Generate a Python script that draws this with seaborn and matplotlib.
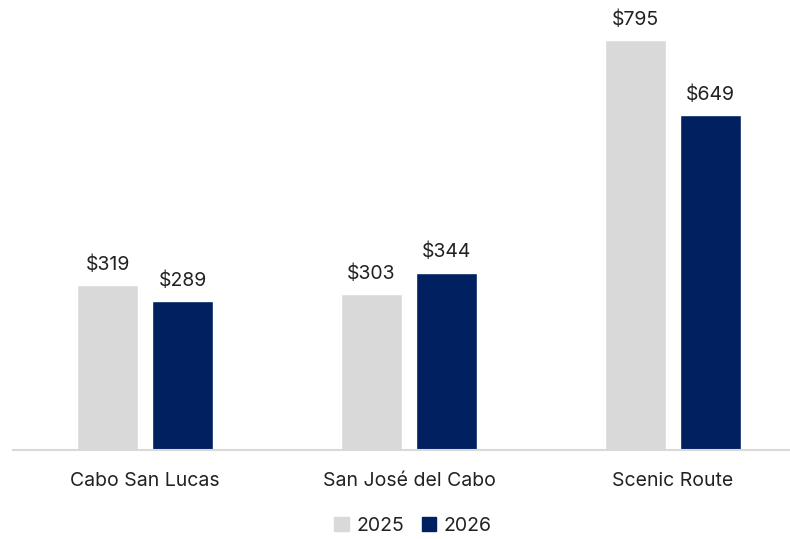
import matplotlib
matplotlib.use("Agg")
import matplotlib.pyplot as plt
import seaborn as sns
import pandas as pd

routes = ["Cabo San Lucas", "San José del Cabo", "Scenic Route"]
years = ["2025", "2026"]
values_2025 = [319, 303, 795]
values_2026 = [289, 344, 649]

df = pd.DataFrame({
    "route": routes * 2,
    "year": [years[0]] * 3 + [years[1]] * 3,
    "price": values_2025 + values_2026,
})

sns.set_theme(style="white")
plt.rcParams["font.family"] = ["Inter", "DejaVu Sans"]

fig = plt.figure(figsize=(7.90, 5.39), dpi=100)
ax = fig.add_axes([13 / 790, 89 / 539, 1 - 13 / 790, 1 - 89 / 539])

palette = {"2025": "#d9d9d9", "2026": "#002060"}
sns.barplot(data=df, x="route", y="price", hue="year", palette=palette,
            width=0.568, gap=0.187, ax=ax, legend=False, saturation=1)

for container in ax.containers:
    ax.bar_label(container, labels=[f"${v:.0f}" for v in container.datavalues],
                 padding=8, fontsize=14, color="#222222")

ax.set_ylim(0, 872.6)
ax.set_xlim(-0.5, 2.5 - 15 / 264)
ax.set_xlabel("")
ax.set_ylabel("")
ax.set_yticks([])
ax.tick_params(axis="x", length=0, labelsize=14, labelcolor="#222222", pad=16)
for side in ["top", "right", "left"]:
    ax.spines[side].set_visible(False)
ax.spines["bottom"].set_color("#d9d9d9")
ax.spines["bottom"].set_linewidth(1.5)

handles = [plt.Rectangle((0, 0), 1, 1, color=palette[y]) for y in years]
fig.legend(handles, years, loc="center", bbox_to_anchor=(413 / 790, 1 - 526 / 539),
           ncol=2, frameon=False, fontsize=14, handlelength=0.75, handleheight=0.75,
           handletextpad=0.4, columnspacing=0.9, labelcolor="#222222")

fig.savefig("out.png", dpi=100)
